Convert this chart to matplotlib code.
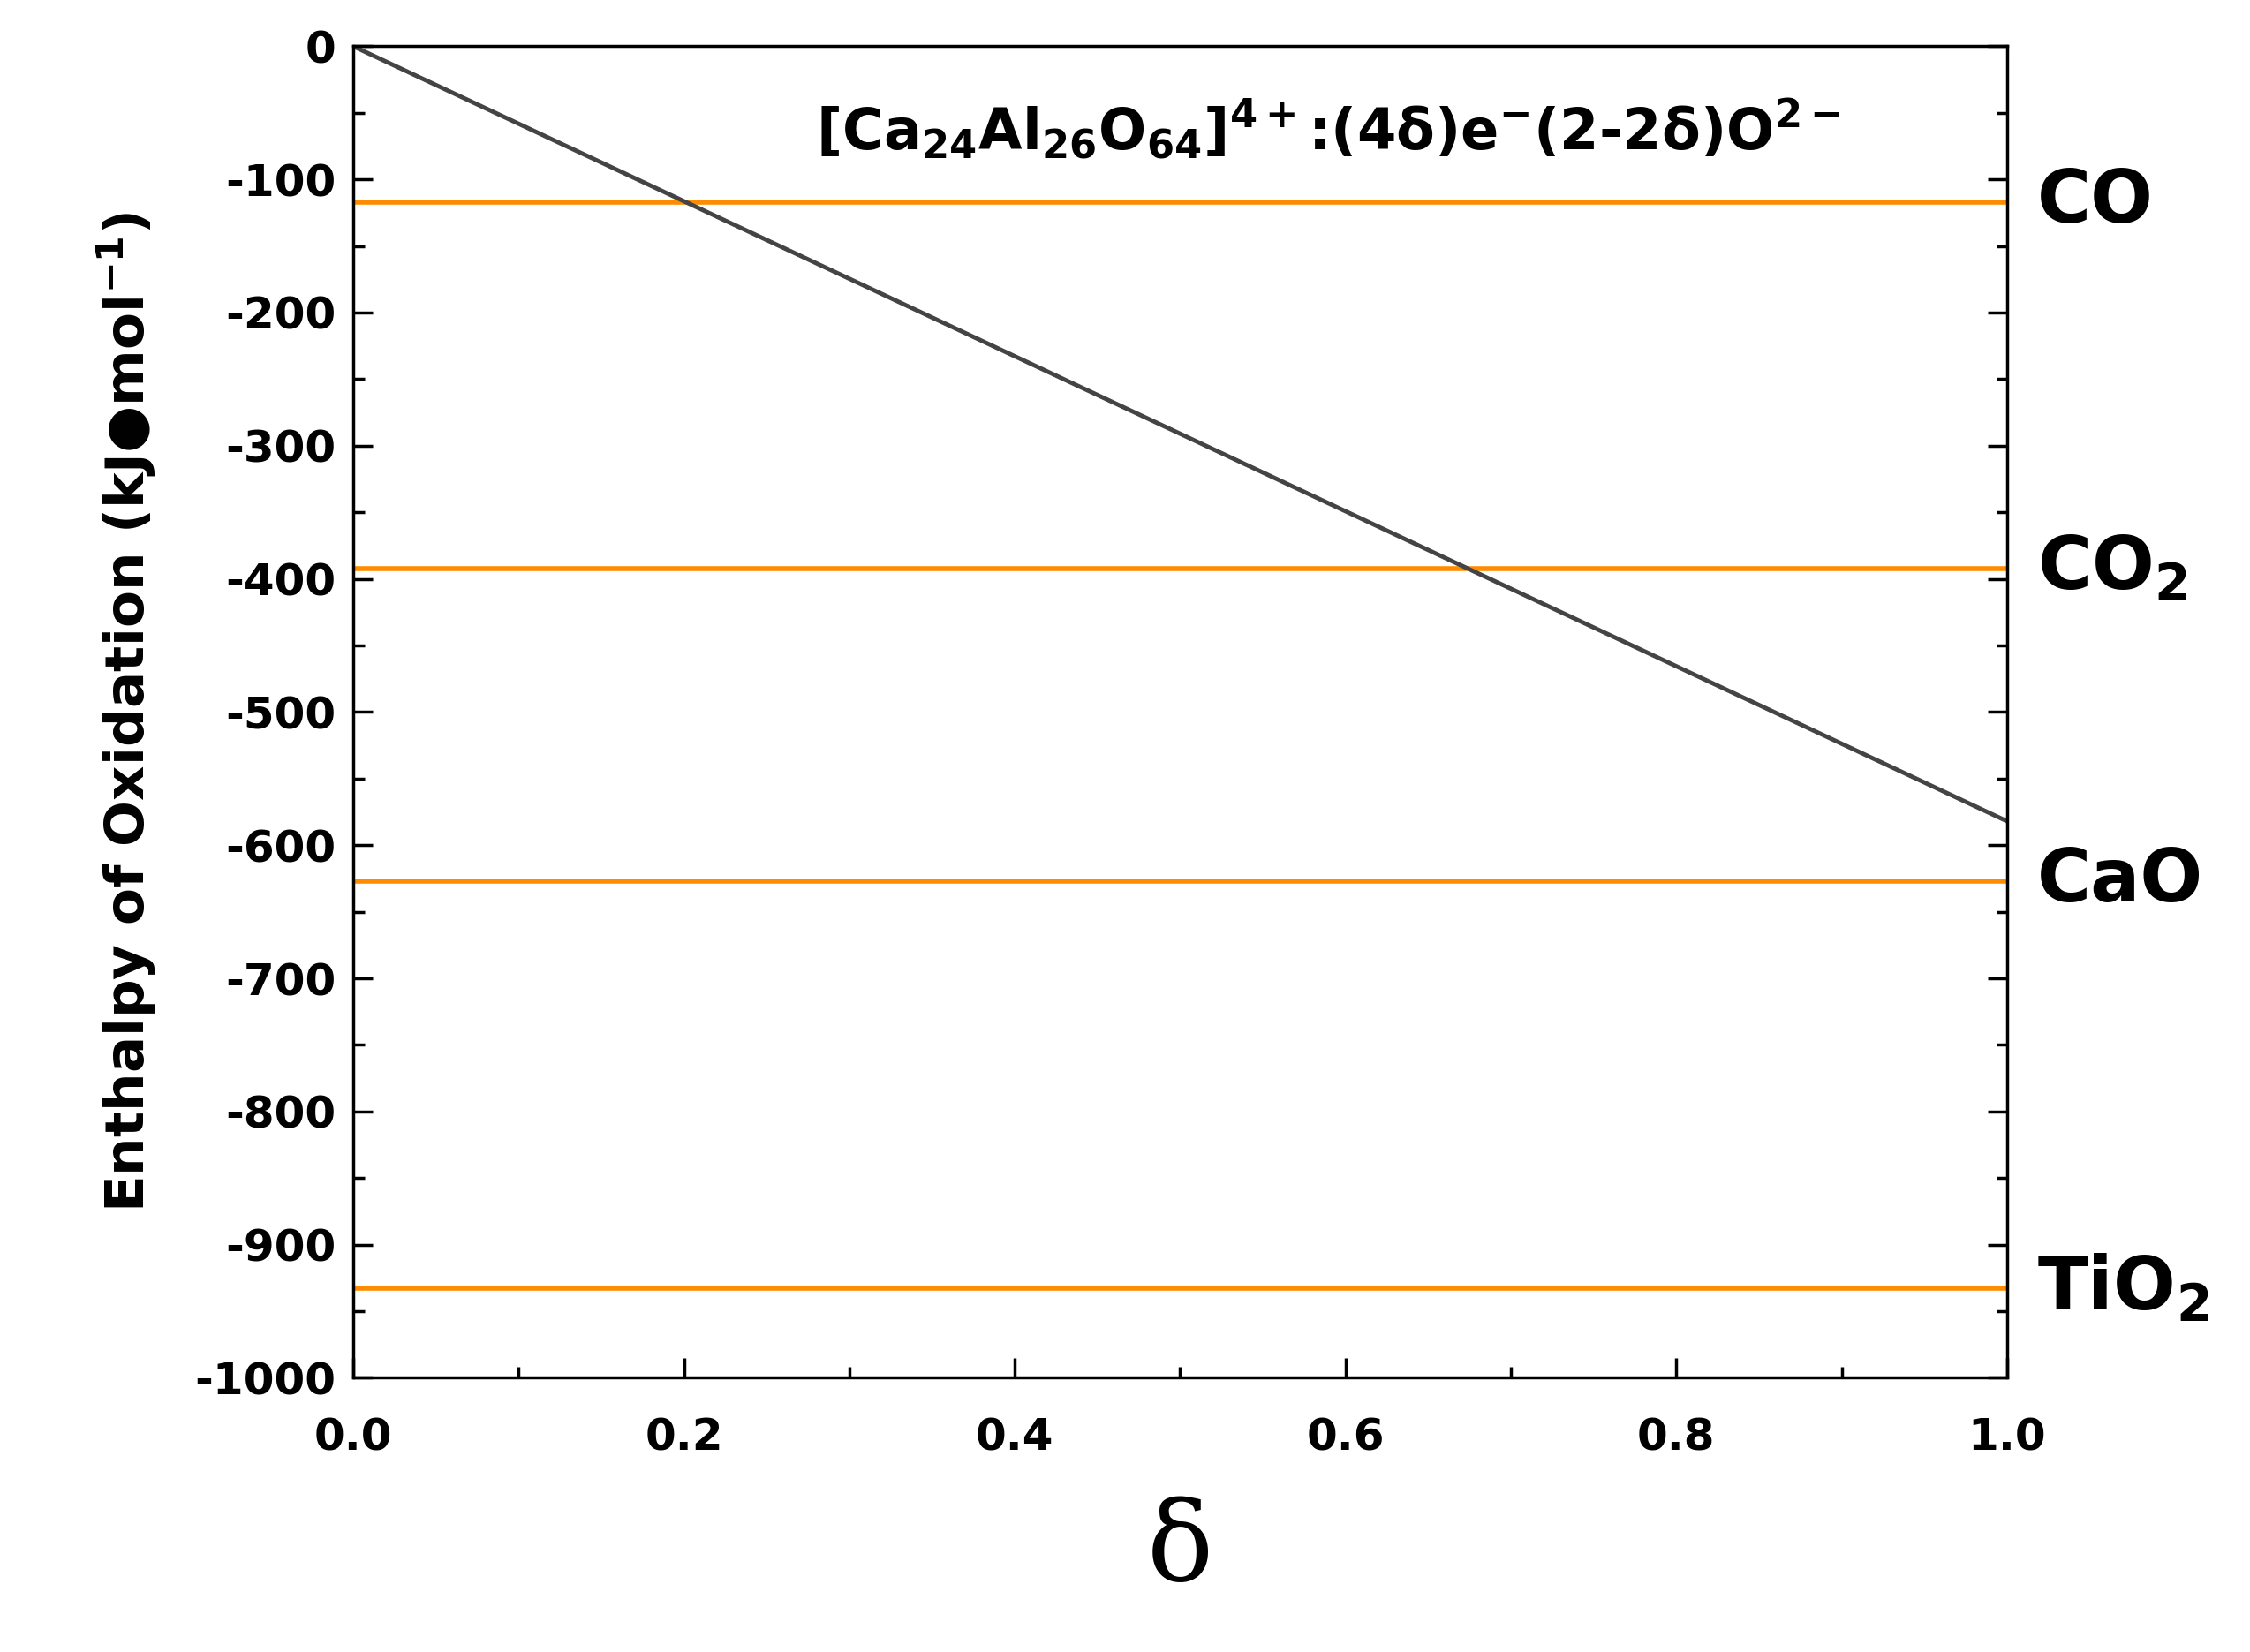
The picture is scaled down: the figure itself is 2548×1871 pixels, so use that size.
import matplotlib
matplotlib.use("Agg")
import matplotlib.pyplot as plt
import numpy as np

delta = [0.0, 1.0]
enthalpy = [0.0, -582.0]
ref_names = ["CO", "CO$_\\mathbf{2}$", "CaO", "TiO$_\\mathbf{2}$"]
ref_values = [-117, -392, -627, -933]

plt.rcParams['font.family'] = 'DejaVu Sans'
plt.rcParams['font.weight'] = 'bold'
plt.rcParams['mathtext.default'] = 'bf'
plt.rcParams['axes.unicode_minus'] = False

fig = plt.figure(figsize=(25.48, 18.71), dpi=100)
ax = fig.add_axes([0.157, 0.166, 0.735, 0.806])

for v in ref_values:
    ax.axhline(v, color='#ff8c00', lw=4)
ax.plot(delta, enthalpy, color='#444444', lw=3.5)

ax.set_xlim(0, 1)
ax.set_ylim(-1000, 0)
ax.set_xticks(np.arange(0, 1.01, 0.2))
ax.set_yticks(np.arange(-1000, 1, 100))
ax.set_xticks(np.arange(0, 1.01, 0.1), minor=True)
ax.set_yticks(np.arange(-1000, 1, 50), minor=True)
ax.tick_params(which='both', direction='in', right=True, width=2.5, labelsize=36, pad=14)
ax.tick_params(axis='x', which='major', pad=32)
ax.tick_params(which='major', length=16)
ax.tick_params(which='minor', length=9)
for s in ax.spines.values():
    s.set_linewidth(2.5)

for name, v in zip(ref_names, ref_values):
    ax.text(1.018, v, name, transform=ax.get_yaxis_transform(), fontsize=60,
            fontweight='bold', va='center', ha='left')

ax.text(0.28, -62, "[Ca$_{24}$Al$_{26}$O$_{64}$]$^{4+}$:(4$\\mathrm{\\delta}$)e$^{-}$(2-2$\\mathrm{\\delta}$)O$^{2-}$",
        fontsize=46, ha='left', va='center', transform=ax.get_yaxis_transform())

ax.set_xlabel("δ", fontsize=90, family='DejaVu Serif', fontweight='normal', labelpad=30)
ax.set_ylabel("Enthalpy of Oxidation (kJ\u25cfmol$^{-1}$)", fontsize=44, fontweight='bold', labelpad=30)

fig.savefig("out.png", dpi=100)
